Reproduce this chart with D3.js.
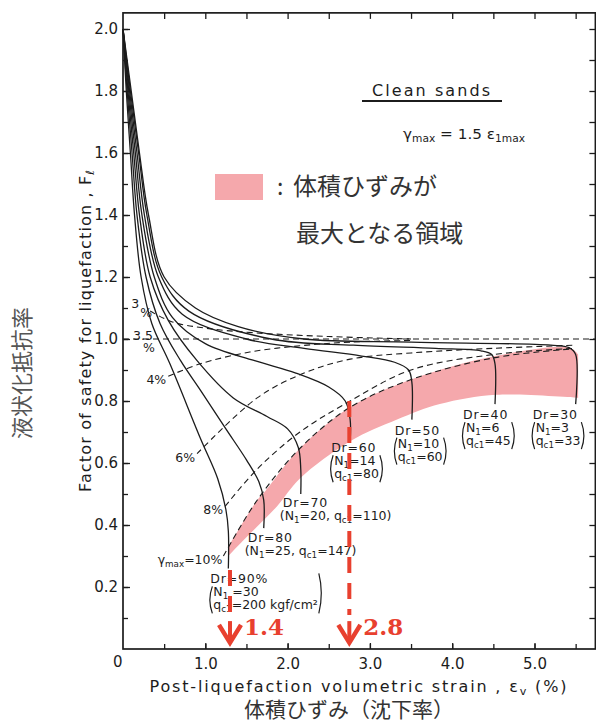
<!DOCTYPE html>
<html>
<head>
<meta charset="utf-8">
<script src="https://cdn.jsdelivr.net/npm/d3@7"></script>
<style>
  body { margin: 0; background: #fff; }
</style>
</head>
<body>
<div id="chart"></div>
<script>
// relative density curves, points are [volumetric strain %, Fl]
const drValues = [90, 80, 70, 60, 50, 40, 30];
const n1Values = [30, 25, 20, 14, 10, 6, 3];
const qc1Values = [200, 147, 110, 80, 60, 45, 33];

const curveDr90 = [[0, 2.0], [0.04, 1.8], [0.09, 1.6], [0.14, 1.4], [0.22, 1.2], [0.35, 1.05], [0.57, 0.92], [0.94, 0.68], [1.15, 0.55], [1.25, 0.45], [1.28, 0.38], [1.28, 0.26]];
const curveDr80 = [[0, 2.0], [0.05, 1.8], [0.11, 1.6], [0.17, 1.4], [0.28, 1.2], [0.45, 1.05], [0.7, 0.93], [0.94, 0.835], [1.25, 0.71], [1.5, 0.61], [1.65, 0.54], [1.71, 0.48], [1.71, 0.39]];
const curveDr70 = [[0, 2.0], [0.06, 1.8], [0.13, 1.6], [0.2, 1.4], [0.33, 1.2], [0.55, 1.06], [0.9, 0.93], [1.34, 0.81], [1.75, 0.75], [2.0, 0.71], [2.13, 0.65], [2.16, 0.58], [2.16, 0.5]];
const curveDr60 = [[0, 2.0], [0.07, 1.8], [0.15, 1.6], [0.23, 1.4], [0.38, 1.2], [0.6, 1.07], [1.0, 0.985], [1.6, 0.93], [2.1, 0.89], [2.5, 0.845], [2.7, 0.8], [2.76, 0.74], [2.76, 0.67]];
const curveDr50 = [[0, 2.0], [0.08, 1.8], [0.17, 1.6], [0.26, 1.4], [0.43, 1.2], [0.72, 1.08], [1.5, 1.0], [2.2, 0.97], [2.9, 0.945], [3.3, 0.925], [3.47, 0.9], [3.51, 0.86], [3.51, 0.74]];
const curveDr40 = [[0, 2.0], [0.09, 1.8], [0.19, 1.6], [0.29, 1.4], [0.47, 1.2], [0.8, 1.09], [1.8, 1.0], [2.8, 0.98], [3.8, 0.97], [4.35, 0.962], [4.48, 0.95], [4.52, 0.92], [4.52, 0.79]];
const curveDr30 = [[0, 2.0], [0.1, 1.8], [0.2, 1.6], [0.31, 1.4], [0.5, 1.2], [0.88, 1.1], [1.4, 1.04], [2.2, 1.0], [3.5, 0.99], [5.2, 0.98], [5.42, 0.972], [5.5, 0.95], [5.5, 0.79]];
const drCurves = [curveDr90, curveDr80, curveDr70, curveDr60, curveDr50, curveDr40, curveDr30];

// gamma max contours (dashed)
const gammaLevels = ['3', '3.5', '4', '6', '8', '10'];
const contour3 = [[0.33, 1.09], [0.6, 1.055], [1.0, 1.035], [1.6, 1.02], [2.5, 1.008], [3.5, 1.0]];
const contour35 = [[0, 1.0], [5.75, 1.0]];
const contour4 = [[0.55, 0.88], [0.94, 0.92], [1.54, 0.958], [2.15, 0.978], [2.76, 0.99], [3.5, 0.995]];
const contour6 = [[0.9, 0.63], [1.63, 0.81], [2.2, 0.89], [2.76, 0.935], [3.5, 0.955], [4.5, 0.97], [5.5, 0.98]];
const contour8 = [[1.24, 0.46], [1.63, 0.58], [2.15, 0.7], [2.76, 0.8], [3.5, 0.9], [4.5, 0.95], [5.5, 0.97]];
const contour10 = [[1.22, 0.3], [1.63, 0.48], [2.16, 0.65], [2.76, 0.78], [3.51, 0.87], [4.52, 0.94], [5.45, 0.968]];
const contours = [contour3, contour35, contour4, contour6, contour8, contour10];

// shaded band: max volumetric strain region
const bandUpper = [[1.28, 0.33], [1.63, 0.48], [1.73, 0.51], [2.16, 0.65], [2.76, 0.78], [3.51, 0.87], [4.52, 0.945], [5.43, 0.972], [5.53, 0.95]];
const bandLower = [[5.53, 0.81], [4.54, 0.82], [3.85, 0.79], [3.33, 0.74], [2.76, 0.67], [2.15, 0.55], [1.87, 0.46], [1.46, 0.35], [1.28, 0.3]];

// red arrows
const arrowStrain = [1.3, 2.75];
const arrowFrom = [0.255, 0.8];
const arrowLabels = ['1.4', '2.8'];

const xTickValues = [1, 2, 3, 4, 5];
const yTickValues = [0.2, 0.4, 0.6, 0.8, 1.0, 1.2, 1.4, 1.6, 1.8, 2.0];

// layout
const W = 596, H = 722;
const xMax = 5.74, yMax = 2.052;
const ink = '#1c1c1c';
const red = '#e8402f';
const pink = '#f5a8ac';
const labelOffsets = [[-18, 15], [-16, 14], [-18, 13], [-19, 11], [-17, 15], [-32, 15], [-43, 15]];

const svg = d3.select('#chart').append('svg')
   .attr('width', W)
   .attr('height', H)
   .style('font-family', '"DejaVu Sans", sans-serif');

const x = d3.scaleLinear().domain([0, 5]).range([123, 534.5]);
const y = d3.scaleLinear().domain([0, 2]).range([649, 29]);

const line = d3.line()
   .x(d => x(d[0]))
   .y(d => y(d[1]))
   .curve(d3.curveCatmullRom.alpha(0.5));

// pink band, upper and lower edges joined by straight ends
const upperPath = line(bandUpper);
const lowerPath = line(bandLower);
svg.append('path')
   .attr('d', upperPath + 'L' + lowerPath.slice(1) + 'Z')
   .attr('fill', pink);

// dashed contours
svg.append('g').selectAll('path')
   .data(contours)
   .join('path')
   .attr('d', line)
   .attr('fill', 'none')
   .attr('stroke', ink)
   .attr('stroke-width', 1.1)
   .attr('stroke-dasharray', '6,4');

// solid curves
svg.append('g').selectAll('path')
   .data(drCurves)
   .join('path')
   .attr('d', line)
   .attr('fill', 'none')
   .attr('stroke', ink)
   .attr('stroke-width', 1.3);

// frame
svg.append('rect')
   .attr('x', x(0))
   .attr('y', y(yMax))
   .attr('width', x(xMax) - x(0))
   .attr('height', y(0) - y(yMax))
   .attr('fill', 'none')
   .attr('stroke', ink)
   .attr('stroke-width', 1.7);

function style_axis(g) {
   g.select('.domain').remove();
   g.selectAll('line').attr('stroke', ink).attr('stroke-width', 1.3);
   g.selectAll('text').attr('font-family', '"DejaVu Sans", sans-serif')
      .attr('font-size', 15).attr('fill', ink);
}

const minorY = d3.range(1, 21).map(d => d / 10);
const halfX = d3.range(1, 12).map(d => d / 2);

svg.append('g')
   .attr('transform', `translate(${x(0)},0)`)
   .call(d3.axisLeft(y).tickValues(minorY).tickSizeInner(-5).tickSizeOuter(0).tickFormat(''))
   .call(style_axis);

svg.append('g')
   .attr('transform', `translate(${x(0)},0)`)
   .call(d3.axisLeft(y).tickValues(yTickValues).tickSizeInner(-7).tickSizeOuter(0)
      .tickPadding(5).tickFormat(d3.format('.1f')))
   .call(style_axis);

svg.append('g')
   .attr('transform', `translate(${x(xMax)},0)`)
   .call(d3.axisRight(y).tickValues(minorY).tickSizeInner(-6).tickSizeOuter(0).tickFormat(''))
   .call(style_axis);

svg.append('g')
   .attr('transform', `translate(0,${y(0)})`)
   .call(d3.axisBottom(x).tickValues(halfX).tickSizeInner(-5).tickSizeOuter(0).tickFormat(''))
   .call(style_axis);

svg.append('g')
   .attr('transform', `translate(0,${y(0)})`)
   .call(d3.axisBottom(x).tickValues(xTickValues).tickSizeInner(-6).tickSizeOuter(0)
      .tickPadding(9).tickFormat(d3.format('.1f')))
   .call(style_axis);

svg.append('g')
   .attr('transform', `translate(0,${y(yMax)})`)
   .call(d3.axisTop(x).tickValues(halfX).tickSizeInner(-6).tickSizeOuter(0).tickFormat(''))
   .call(style_axis);

svg.append('text')
   .attr('x', x(0) - 10)
   .attr('y', y(0) + 18)
   .attr('font-size', 15)
   .attr('fill', ink)
   .text('0');

// text with subscripts
function rich(sel, parts) {
   let shift = 0;
   parts.forEach(([t, kind]) => {
      const target = kind === 'sub' ? 3 : 0;
      sel.append('tspan')
         .attr('dy', target - shift)
         .attr('font-size', kind ? '0.7em' : null)
         .text(t);
      shift = target;
   });
   return sel;
}

function paren(g, px, y0, y1, side) {
   const k = side === 'left' ? 1 : -1;
   g.append('path')
      .attr('d', `M${px + 3 * k},${y0} Q${px - 2 * k},${(y0 + y1) / 2} ${px + 3 * k},${y1}`)
      .attr('fill', 'none')
      .attr('stroke', ink)
      .attr('stroke-width', 1.2);
}

// Dr labels
const labelLayer = svg.append('g').attr('font-size', 12.5).attr('fill', ink);
drCurves.forEach((c, i) => {
   const end = c[c.length - 1];
   const lx = x(end[0]) + labelOffsets[i][0];
   const ly = y(end[1]) + labelOffsets[i][1];
   const g = labelLayer.append('g');
   const lh = 13;
   g.append('text').attr('x', lx).attr('y', ly)
      .attr('letter-spacing', 0.8)
      .text('Dr=' + drValues[i] + (i === 0 ? '%' : ''));
   if (i === 1 || i === 2) {
      rich(g.append('text').attr('x', lx - 3).attr('y', ly + lh),
         [['(N'], ['1', 'sub'], ['=' + n1Values[i] + ', q'], ['c1', 'sub'], ['=' + qc1Values[i] + ')']]);
   } else {
      const t2 = rich(g.append('text').attr('x', lx + 3).attr('y', ly + lh),
         [['N'], ['1', 'sub'], [(i === 0 ? ' =' : '=') + n1Values[i]]]);
      const t3 = rich(g.append('text').attr('x', lx + 3).attr('y', ly + 2 * lh),
         [['q'], ['c1', 'sub'], ['=' + qc1Values[i] + (i === 0 ? ' kgf/cm²' : '')]]);
      const w = Math.max(t2.node().getComputedTextLength(), t3.node().getComputedTextLength());
      paren(g, lx - 1, ly + 3, ly + 2 * lh + 4, 'left');
      paren(g, lx + w + 7, (i === 0 ? ly - 10 : ly + 3), ly + 2 * lh + 4, 'right');
   }
});

// gamma max labels
const gLabels = svg.append('g').attr('font-size', 12.5).attr('fill', ink);
contours.forEach((c, i) => {
   const sx = x(c[0][0]), sy = y(c[0][1]);
   if (i === 0) {
      gLabels.append('text').attr('x', sx - 19).attr('y', sy - 3).text(gammaLevels[i]);
      gLabels.append('text').attr('x', sx - 10).attr('y', sy + 6).text('%');
   } else if (i === 1) {
      gLabels.append('text').attr('x', sx + 10).attr('y', sy + 1).text(gammaLevels[i]);
      gLabels.append('text').attr('x', sx + 20).attr('y', sy + 13).text('%');
   } else if (i === 5) {
      rich(gLabels.append('text').attr('x', sx - 1).attr('y', sy + 8).attr('text-anchor', 'end'),
         [['γ'], ['max', 'sub'], ['=' + gammaLevels[i] + '%']]);
   } else {
      gLabels.append('text').attr('x', sx - 2).attr('y', sy + 8).attr('text-anchor', 'end')
         .text(gammaLevels[i] + '%');
   }
});

// red arrows
arrowStrain.forEach((s, i) => {
   const ax = x(s);
   const g = svg.append('g').attr('stroke', red).attr('fill', 'none');
   g.append('line')
      .attr('x1', ax).attr('x2', ax)
      .attr('y1', y(arrowFrom[i])).attr('y2', y(0.11))
      .attr('stroke-width', 4)
      .attr('stroke-dasharray', '16,10');
   g.append('line')
      .attr('x1', ax).attr('x2', ax)
      .attr('y1', y(0.09)).attr('y2', y(0.02))
      .attr('stroke-width', 4);
   g.append('path')
      .attr('d', `M${ax - 11},${y(0.078)} L${ax},${y(0.02)} L${ax + 11},${y(0.078)}`)
      .attr('stroke-width', 4.5)
      .attr('stroke-linejoin', 'miter');
   svg.append('text')
      .attr('x', ax + 14)
      .attr('y', y(0.045))
      .attr('font-family', '"DejaVu Serif", serif')
      .attr('font-weight', 'bold')
      .attr('font-size', 23)
      .attr('fill', red)
      .text(arrowLabels[i]);
});

// titles and notes
svg.append('text')
   .attr('x', 372).attr('y', 96)
   .attr('font-size', 16).attr('fill', ink)
   .attr('textLength', 118).attr('lengthAdjust', 'spacing')
   .text('Clean sands');
svg.append('line')
   .attr('x1', 362).attr('x2', 502).attr('y1', 101).attr('y2', 101)
   .attr('stroke', ink).attr('stroke-width', 2.2);

rich(svg.append('text').attr('x', 403).attr('y', 139).attr('font-size', 14).attr('fill', ink)
      .attr('textLength', 122).attr('lengthAdjust', 'spacingAndGlyphs'),
   [['γ'], ['max', 'sub'], [' = 1.5 ε'], ['1max', 'sub']]);

svg.append('rect')
   .attr('x', 215).attr('y', 174).attr('width', 48).attr('height', 26)
   .attr('fill', pink);
const jp = '"Noto Sans CJK JP", sans-serif';
svg.append('text').attr('x', 277).attr('y', 195).attr('font-family', jp)
   .attr('font-size', 23).attr('fill', '#333').text(':');
svg.append('text').attr('x', 293).attr('y', 195).attr('font-family', jp)
   .attr('font-size', 24).attr('fill', '#333').text('体積ひずみが');
svg.append('text').attr('x', 296).attr('y', 242).attr('font-family', jp)
   .attr('font-size', 24).attr('fill', '#333').text('最大となる領域');

// axis titles
rich(svg.append('text')
      .attr('x', 358).attr('y', 692)
      .attr('text-anchor', 'middle')
      .attr('font-size', 16).attr('fill', ink)
      .attr('textLength', 417).attr('lengthAdjust', 'spacing'),
   [['Post-liquefaction volumetric strain , ε'], ['v', 'sub'], [' (%)']]);

svg.append('text')
   .attr('x', 349).attr('y', 717)
   .attr('text-anchor', 'middle')
   .attr('font-family', jp)
   .attr('font-size', 21).attr('fill', '#333')
   .text('体積ひずみ（沈下率）');

rich(svg.append('text')
      .attr('transform', 'translate(91,331) rotate(-90)')
      .attr('text-anchor', 'middle')
      .attr('font-size', 16).attr('fill', ink)
      .attr('textLength', 322).attr('lengthAdjust', 'spacing'),
   [['Factor of safety for liquefaction , F'], ['ℓ', 'sub']]);

svg.append('text')
   .attr('transform', 'translate(30,373) rotate(-90)')
   .attr('text-anchor', 'middle')
   .attr('font-family', jp)
   .attr('font-size', 22).attr('fill', '#555')
   .text('液状化抵抗率');
</script>
</body>
</html>
